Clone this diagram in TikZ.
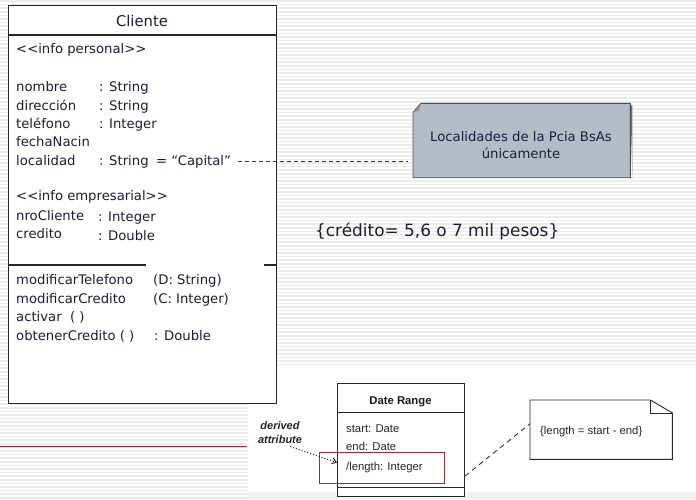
\documentclass[tikz,border=0pt]{standalone}
\usepackage{fontspec}
\setmainfont{DejaVu Sans}
\newfontfamily\arialf{Liberation Sans}
\usetikzlibrary{arrows.meta}
\definecolor{ink}{RGB}{28,28,58}
\definecolor{notegray}{RGB}{180,188,200}
\definecolor{stripecol}{RGB}{236,236,236}
\definecolor{redline}{RGB}{170,40,45}
\newcommand{\lt}{<\kern0pt<}
\newcommand{\gt}{>\kern0pt>}
\begin{document}
\begin{tikzpicture}[x=1pt,y=-1pt,
  txt/.style={anchor=base west,inner sep=0pt,text=ink,font=\fontsize{13.2}{15}\selectfont},
  dtxt/.style={anchor=base west,inner sep=0pt,text=black!85,font=\arialf\fontsize{11.3}{13}\selectfont},
  umlbox/.style={draw=black!85,line width=1.2pt,fill=white,inner sep=0pt,anchor=north west},
  stripeline/.style={stripecol,line width=1.5pt}]
\useasboundingbox (0,0) rectangle (696,499);
\fill[white] (0,0) rectangle (696,499);
\foreach \yy in {1,4.6,...,499} \draw[stripeline] (0,\yy) -- (696,\yy);
% pasted image area
\fill[white] (248,365) rectangle (696,499);
\fill[black!5] (248,492) rectangle (696,499);
\draw[redline,line width=0.8pt] (0,446.5) -- (247,446.5);

% Cliente class
\node[umlbox,minimum width=268pt,minimum height=398pt] (cliente) at (8,5) {};
\draw[black!85,line width=1.2pt] (8,35) -- (276,35);
\draw[black!85,line width=1.2pt] (8,265) -- (146,265) (264,265) -- (276,265);
\node[anchor=base,inner sep=0pt,text=ink,font=\fontsize{14.8}{17}\selectfont] (ctitle) at (142,26) {Cliente};
\node[txt] (s1) at (16,53) {\lt info personal\gt};
\node[txt] (a1) at (16,91.5) {nombre};
\node[txt] (t1) at (99,91.5) {: String};
\node[txt] (a2) at (16,110) {dirección};
\node[txt] (t2) at (99,110) {: String};
\node[txt] (a3) at (16,128.3) {teléfono};
\node[txt] (t3) at (99,128.3) {: Integer};
\node[txt] (a4) at (16,146.7) {fechaNacin};
\node[txt] (a5) at (16,165) {localidad};
\node[txt] (t5) at (99,165) {: String};
\node[txt] (capital) at (156,165) {= “Capital”};
\node[txt] (s2) at (16,200) {\lt info empresarial\gt};
\node[txt] (a6) at (16,220) {nroCliente};
\node[txt] (t6) at (98,221.5) {: Integer};
\node[txt] (a7) at (16,238.7) {credito};
\node[txt] (t7) at (98,240) {: Double};
\node[txt] (m1) at (16,284.3) {modificarTelefono};
\node[txt] (p1) at (153,284.3) {(D: String)};
\node[txt] (m2) at (16,303.3) {modificarCredito};
\node[txt] (p2) at (153,303.3) {(C: Integer)};
\node[txt] (m3) at (16,321.7) {activar\ \ ( )};
\node[txt] (m4) at (16,340.7) {obtenerCredito ( )};
\node[txt] (p4) at (154,340.7) {: Double};

% note
\node[inner sep=0pt,minimum width=217pt,minimum height=74pt,anchor=north west] (lnote) at (413,103.3) {};
\fill[black!55] ([yshift=-2pt]lnote.north east) -- ([xshift=2pt,yshift=-2pt]lnote.north east) -- ([xshift=2pt,yshift=-2pt]lnote.south east) -- ([xshift=2pt]lnote.south east) -- cycle;
\draw[black!70,line width=0.9pt,fill=notegray] ([xshift=8pt]lnote.north west) -- (lnote.north east) -- (lnote.south east) -- (lnote.south west) -- ([yshift=-9pt]lnote.north west) -- cycle;
\fill[black!45] ([xshift=8pt]lnote.north west) -- ([yshift=-9pt]lnote.north west) -- ([xshift=6pt,yshift=-7pt]lnote.north west) -- cycle;
\node[anchor=base,inner sep=0pt,text=ink,font=\fontsize{13.2}{15}\selectfont] (n1) at (521,141.7) {Localidades de la Pcia BsAs};
\node[anchor=base,inner sep=0pt,text=ink,font=\fontsize{13.2}{15}\selectfont] (n2) at (521,158.3) {únicamente};
\draw[black!80,line width=0.9pt,dash pattern=on 4pt off 3pt] ([xshift=7pt]capital.east) -- ([xshift=-5pt]capital.east -| lnote.west);

% constraint
\node[anchor=base west,inner sep=0pt,text=ink,font=\fontsize{16.9}{19}\selectfont] (cred) at (315,236.7) {\{crédito= 5,6 o 7 mil pesos\}};

% Date Range class
\node[umlbox,line width=1pt,minimum width=127pt,minimum height=113pt] (dr) at (337,383) {};
\draw[black!85,line width=1pt] (337,412) -- (464,412);
\draw[black!85,line width=1pt] (337,487.5) -- (464,487.5);
\node[anchor=base,inner sep=0pt,text=black!90,font=\arialf\bfseries\fontsize{11.3}{13}\selectfont] (drt) at (400.5,404) {Date Range};
\node[dtxt] (d1) at (346,432.7) {start: Date};
\node[dtxt] (d2) at (346,450.7) {end: Date};
\node[dtxt] (d3) at (346,470) {/length: Integer};
\node[draw=redline,line width=0.9pt,inner sep=0pt,minimum width=125pt,minimum height=31pt,anchor=north west] (hl) at (319,452) {};

\node[anchor=base,inner sep=0pt,text=black!85,font=\arialf\bfseries\itshape\fontsize{11}{12}\selectfont] (der1) at (280,429) {derived};
\node[anchor=base,inner sep=0pt,text=black!85,font=\arialf\bfseries\itshape\fontsize{11}{12}\selectfont] (der2) at (280,443.3) {attribute};
\coordinate (arrtip) at (337,462.5);
\draw[black!85,line width=1pt,dotted,-{Straight Barb[length=4pt,width=6pt]}] ([xshift=-12pt,yshift=-3pt]der2.south east) -- (arrtip);

% length note
\node[inner sep=0pt,minimum width=142pt,minimum height=59pt,anchor=north west] (lnote2) at (530,400) {};
\draw[black!85,line width=0.9pt,fill=white] (lnote2.south west) -- (lnote2.north west) -- ([xshift=-22pt]lnote2.north east) -- ([yshift=-13pt]lnote2.north east) -- (lnote2.south east) -- cycle;
\draw[black!85,line width=0.9pt] ([xshift=-22pt]lnote2.north east) -- ([xshift=-22pt,yshift=-13pt]lnote2.north east) -- ([yshift=-13pt]lnote2.north east);
\node[dtxt] (lt) at (540,434) {\{length = start - end\}};
\draw[black!80,line width=0.9pt,dash pattern=on 5pt off 4pt] ([yshift=-9pt]d3.east -| dr.east) -- ([yshift=6pt]lnote2.west);
\end{tikzpicture}
\end{document}
